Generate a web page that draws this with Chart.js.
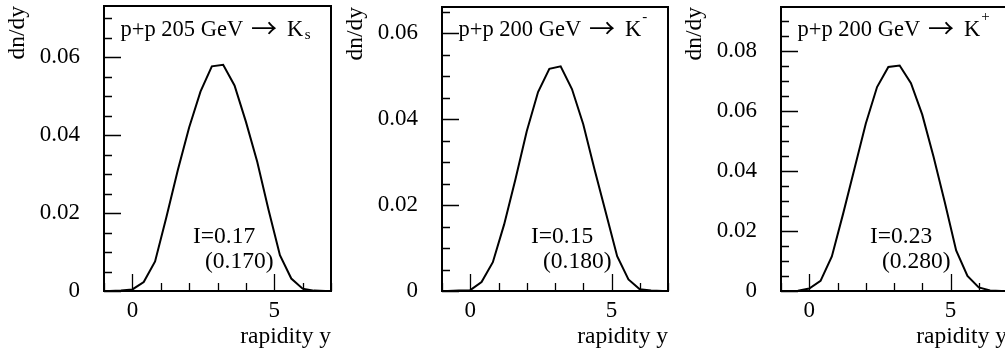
<!DOCTYPE html>
<html>
<head>
<meta charset="utf-8">
<script src="https://cdn.jsdelivr.net/npm/chart.js@4.4.0/dist/chart.umd.min.js"></script>
<style>
html,body{margin:0;padding:0;background:#fff;overflow:hidden;width:1005px;height:349px;position:relative;}
canvas{position:absolute;top:0;}
</style>
</head>
<body>
<canvas id="c1" width="334" height="349" style="left:0px"></canvas>
<canvas id="c2" width="333" height="349" style="left:338px"></canvas>
<canvas id="c3" width="333" height="349" style="left:677px"></canvas>
<script>
// ---- data ----
const rapidity = [-0.8, -0.4, 0.0, 0.4, 0.8, 1.2, 1.6, 2.0, 2.4, 2.8, 3.2, 3.6, 4.0, 4.4, 4.8, 5.2, 5.6, 6.0, 6.4, 6.8];
const ksValues     = [0, 0.0001, 0.0004, 0.0023, 0.0076, 0.0190, 0.0310, 0.0420, 0.0512, 0.0577, 0.0581, 0.0528, 0.0435, 0.0332, 0.0208, 0.0092, 0.0032, 0.0006, 0.0001, 0];
const kMinusValues = [0, 0.0001, 0.0002, 0.0021, 0.0067, 0.0155, 0.0260, 0.0372, 0.0463, 0.0517, 0.0523, 0.0470, 0.0388, 0.0283, 0.0182, 0.0081, 0.0027, 0.0004, 0.0001, 0];
const kPlusValues  = [0, 0.0001, 0.0008, 0.0034, 0.0115, 0.0258, 0.0408, 0.0558, 0.0680, 0.0747, 0.0752, 0.0693, 0.0588, 0.0448, 0.0295, 0.0135, 0.0050, 0.0012, 0.0002, 0];

const xTickLabels = [0, 5];
const yTickLabels12 = [0, 0.02, 0.04, 0.06];
const yTickLabels3 = [0, 0.02, 0.04, 0.06, 0.08];
const yMaxes = [0.0732, 0.0661, 0.0947];

const panelReactions = ['p+p 205 GeV', 'p+p 200 GeV', 'p+p 200 GeV'];
const panelArrow = '\u2192';
const panelParticle = 'K';
const panelSubs = ['s', '', ''];
const panelSups = ['', '-', '+'];
const integralTexts = ['I=0.17', 'I=0.15', 'I=0.23'];
const referenceTexts = ['(0.170)', '(0.180)', '(0.280)'];

const xAxisTitle = 'rapidity y';
const yAxisTitle = 'dn/dy';

// ---- drawing ----
const FONT = '"Liberation Serif", "Times New Roman", Times, serif';
const ARROW_FONT = '"Noto Sans CJK JP", "Noto Sans CJK SC", "DejaVu Sans", sans-serif';

const rootFrame = {
  id: 'rootFrame',
  afterDraw(chart, args, opts) {
    const ctx = chart.ctx;
    const a = chart.chartArea;
    const xs = chart.scales.x, ys = chart.scales.y;
    ctx.save();
    ctx.strokeStyle = '#000';
    ctx.fillStyle = '#000';
    // inward ticks on y
    ctx.lineWidth = 1.3;
    ctx.beginPath();
    for (let i = 0; i * 0.005 <= ys.max + 1e-9; i++) {
      const v = i * 0.005;
      const major = (i % 4) === 0;
      const py = Math.round(ys.getPixelForValue(v)) + 0.5;
      ctx.moveTo(a.left, py);
      ctx.lineTo(a.left + (major ? 17 : 8), py);
    }
    // inward ticks on x
    for (let v = Math.ceil(xs.min); v <= xs.max + 1e-9; v++) {
      const major = (v % 5) === 0;
      const px = Math.round(xs.getPixelForValue(v)) + 0.5;
      ctx.moveTo(px, a.bottom);
      ctx.lineTo(px, a.bottom - (major ? 17 : 8));
    }
    ctx.stroke();
    // frame
    ctx.lineWidth = 2;
    ctx.strokeRect(a.left, a.top, a.right - a.left, a.bottom - a.top);
    // panel title
    ctx.textAlign = 'left';
    ctx.textBaseline = 'alphabetic';
    const ty = 36;
    ctx.font = '22.5px ' + FONT;
    ctx.fillText(opts.reaction, a.left + 16.5, ty);
    // arrow
    ctx.font = '26px ' + ARROW_FONT;
    ctx.textBaseline = 'middle';
    ctx.fillText(panelArrow, a.left + 147, 28.5);
    ctx.textBaseline = 'alphabetic';
    ctx.font = '22.5px ' + FONT;
    const kx = a.left + 183;
    ctx.fillText(panelParticle, kx, ty);
    const kw = ctx.measureText(panelParticle).width;
    ctx.font = '15px ' + FONT;
    if (opts.sub) ctx.fillText(opts.sub, kx + kw + 1.5, ty + 2.5);
    if (opts.sup) ctx.fillText(opts.sup, kx + kw + 1, 21);
    // integral annotations
    ctx.font = '23.5px ' + FONT;
    ctx.fillText(opts.integral, a.left + 89, a.bottom - 48.5);
    ctx.fillText(opts.reference, a.left + 101, a.bottom - 23.5);
    ctx.restore();
  }
};

function zeroPad(s) { s.paddingLeft = 0; s.paddingRight = 0; s.paddingTop = 0; s.paddingBottom = 0; }

function makePanel(id, values, yMax, yTicks, idx, topPad) {
  return new Chart(document.getElementById(id), {
    type: 'line',
    data: {
      datasets: [{
        data: rapidity.map((x, i) => ({ x: x, y: values[i] })),
        borderColor: '#000',
        borderWidth: 2,
        pointRadius: 0,
        tension: 0,
        fill: false
      }]
    },
    options: {
      responsive: false,
      animation: false,
      devicePixelRatio: 1,
      layout: { padding: { left: 0, top: topPad, right: 3, bottom: 0 } },
      plugins: {
        legend: { display: false },
        tooltip: { enabled: false },
        rootFrame: {
          reaction: panelReactions[idx], sub: panelSubs[idx], sup: panelSups[idx],
          integral: integralTexts[idx], reference: referenceTexts[idx]
        }
      },
      scales: {
        x: {
          type: 'linear', min: -1, max: 7,
          grid: { display: false, drawTicks: false }, border: { display: false },
          afterBuildTicks: s => { s.ticks = xTickLabels.map(v => ({ value: v })); },
          afterFit: s => { s.height = 58; zeroPad(s); },
          ticks: {
            padding: 8, color: '#000', autoSkip: false, maxRotation: 0, minRotation: 0,
            font: { family: FONT, size: 23, lineHeight: 1 },
            callback: v => String(v)
          },
          title: {
            display: true, text: xAxisTitle, align: 'end', color: '#000',
            font: { family: FONT, size: 23.5, lineHeight: 1 },
            padding: { top: 0, bottom: 0.6 }
          }
        },
        y: {
          type: 'linear', min: 0, max: yMax,
          grid: { display: false, drawTicks: false }, border: { display: false },
          afterBuildTicks: s => { s.ticks = yTicks.map(v => ({ value: v })); },
          afterFit: s => { s.width = 104; zeroPad(s); },
          ticks: {
            padding: 24, color: '#000', autoSkip: false,
            font: { family: FONT, size: 23, lineHeight: 1 },
            callback: v => (v === 0 ? '0' : v.toFixed(2))
          },
          title: {
            display: true, text: yAxisTitle, align: 'end', color: '#000',
            font: { family: FONT, size: 23.5, lineHeight: 1 },
            padding: { top: 5.6, bottom: 0 }
          }
        }
      }
    },
    plugins: [rootFrame]
  });
}

makePanel('c1', ksValues, yMaxes[0], yTickLabels12, 0, 6);
makePanel('c2', kMinusValues, yMaxes[1], yTickLabels12, 1, 7);
makePanel('c3', kPlusValues, yMaxes[2], yTickLabels3, 2, 7);
</script>
</body>
</html>
